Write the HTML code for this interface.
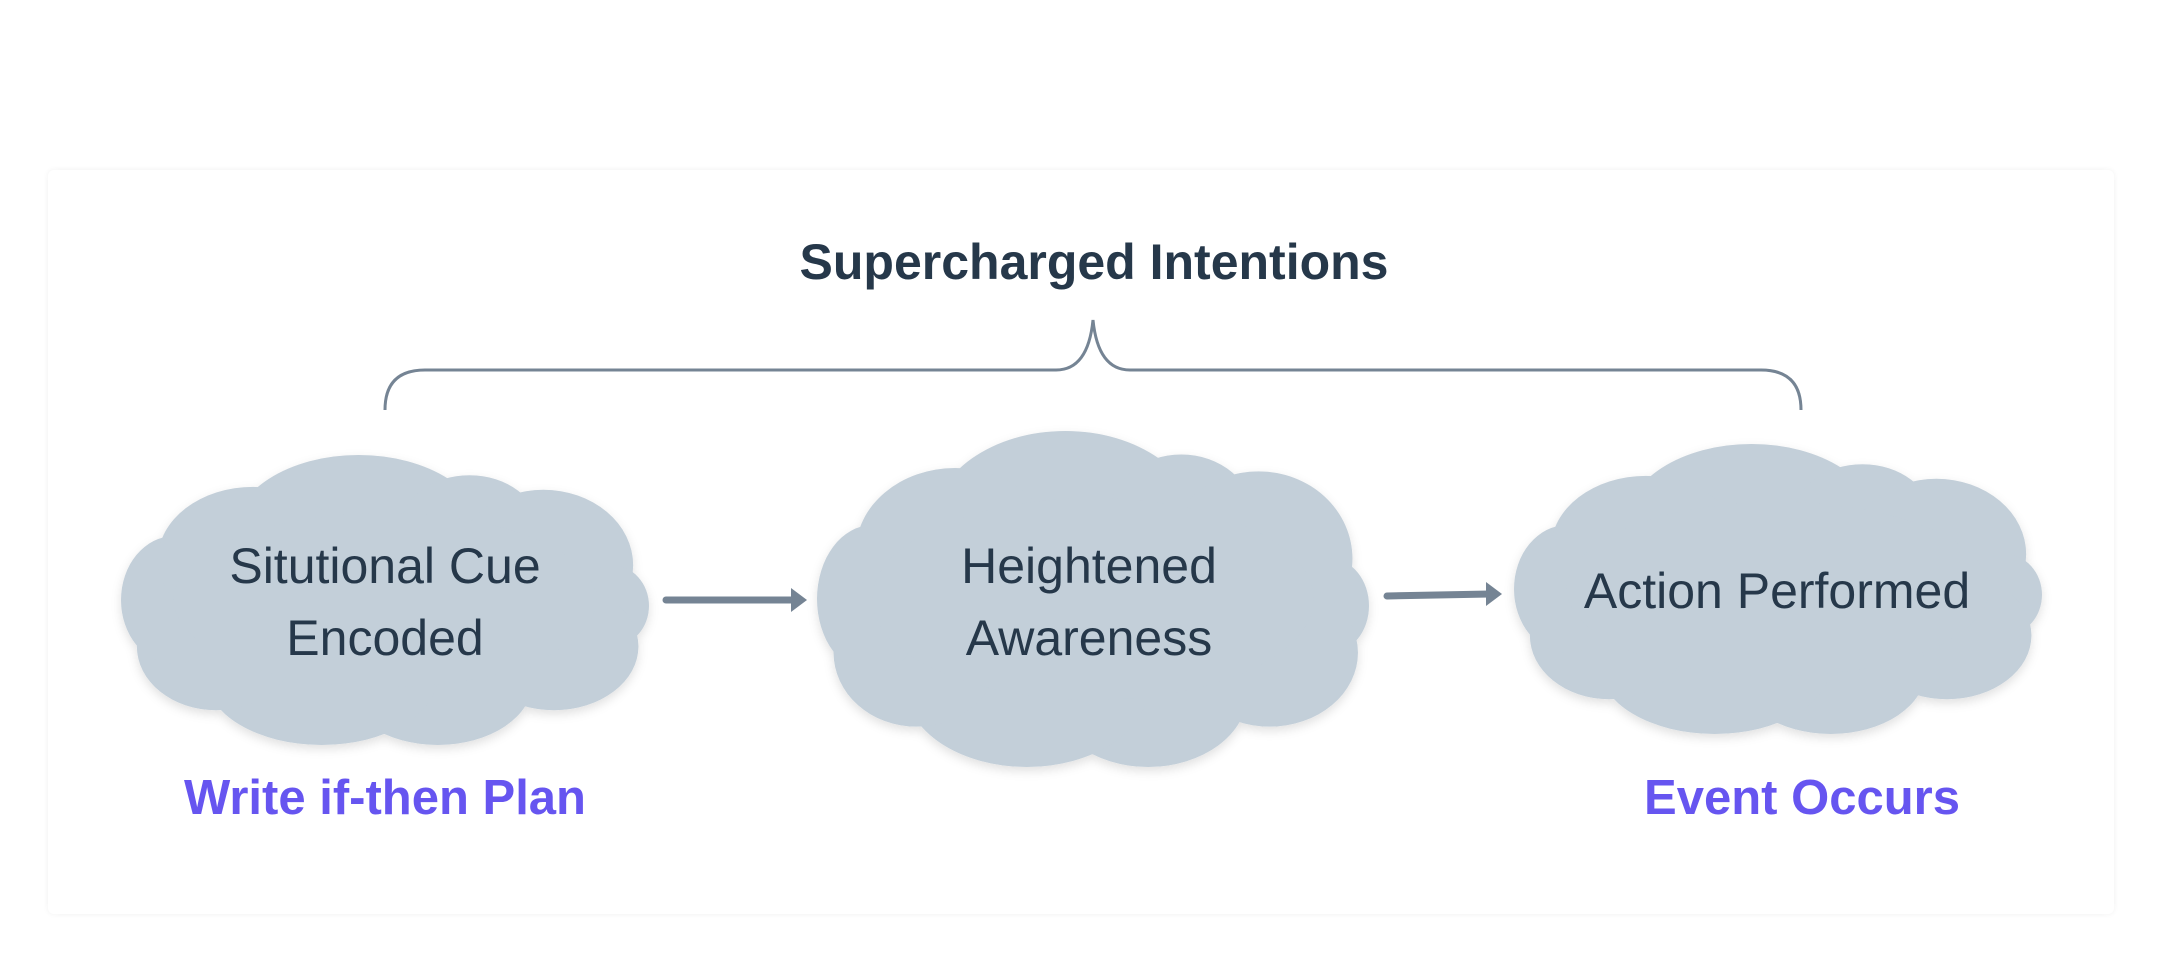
<!DOCTYPE html>
<html><head><meta charset="utf-8"><style>
html,body{margin:0;padding:0;background:#fff;}
body{width:2164px;height:964px;position:relative;overflow:hidden;font-family:"Liberation Sans",sans-serif;}
.card{position:absolute;left:48px;top:170px;width:2066px;height:744px;background:#fff;border-radius:6px;box-shadow:0 0 6px rgba(0,0,0,0.06);}
.t{position:absolute;transform:translate(-50%,-50%);white-space:nowrap;text-align:center;}
.title{font-weight:bold;font-size:50px;color:#26384a;}
.node{font-size:50px;color:#26384a;line-height:72px;}
.lab{font-weight:bold;font-size:49px;color:#6655f0;}
svg{position:absolute;left:0;top:0;}
</style></head><body>
<div class="card"></div>
<svg width="2164" height="964" id="s">
<defs><filter id="sh" x="-10%" y="-10%" width="120%" height="130%"><feDropShadow dx="0" dy="4" stdDeviation="5" flood-color="#000" flood-opacity="0.12"/></filter></defs>
<path d="M385 410 Q385 370 425 370 L1056 370 Q1088 370 1093 320 Q1098 370 1130 370 L1761 370 Q1801 370 1801 410" fill="none" stroke="#758494" stroke-width="3"/>
<g id="clouds"></g>
<line x1="666" y1="600" x2="795" y2="600" stroke="#758494" stroke-width="7" stroke-linecap="round"/>
<polygon points="791,588 807,600 791,612" fill="#758494"/>
<line x1="1387" y1="596" x2="1490" y2="594" stroke="#758494" stroke-width="7" stroke-linecap="round"/>
<polygon points="1486,582 1502,594 1486,606" fill="#758494"/>
</svg>
<div class="t title" style="left:1094px;top:262px;">Supercharged Intentions</div>
<div class="t node" style="left:385px;top:602px;">Situtional Cue<br>Encoded</div>
<div class="t node" style="left:1089px;top:602px;">Heightened<br>Awareness</div>
<div class="t node" style="left:1777px;top:591px;">Action Performed</div>
<div class="t lab" style="left:385px;top:798px;">Write if-then Plan</div>
<div class="t lab" style="left:1802px;top:798px;">Event Occurs</div>
<script>
var E=[[.45,.28,.24,.28],[.66,.25,.13,.18],[.80,.38,.17,.26],[.93,.52,.07,.14],[.82,.66,.16,.22],[.60,.78,.18,.22],[.38,.76,.22,.24],[.18,.66,.15,.22],[.10,.50,.10,.22],[.25,.36,.18,.25],[.5,.5,.4,.3]];
var B=[[121,455,528,290],[817,431,552,336],[1514,444,528,290]];
var g=document.getElementById('clouds'),h='';
B.forEach(function(b){h+='<g filter="url(#sh)" fill="#c3cfd9">';E.forEach(function(e){h+='<ellipse cx="'+(b[0]+e[0]*b[2])+'" cy="'+(b[1]+e[1]*b[3])+'" rx="'+(e[2]*b[2])+'" ry="'+(e[3]*b[3])+'"/>';});h+='</g>';});
g.innerHTML=h;
</script>
</body></html>
